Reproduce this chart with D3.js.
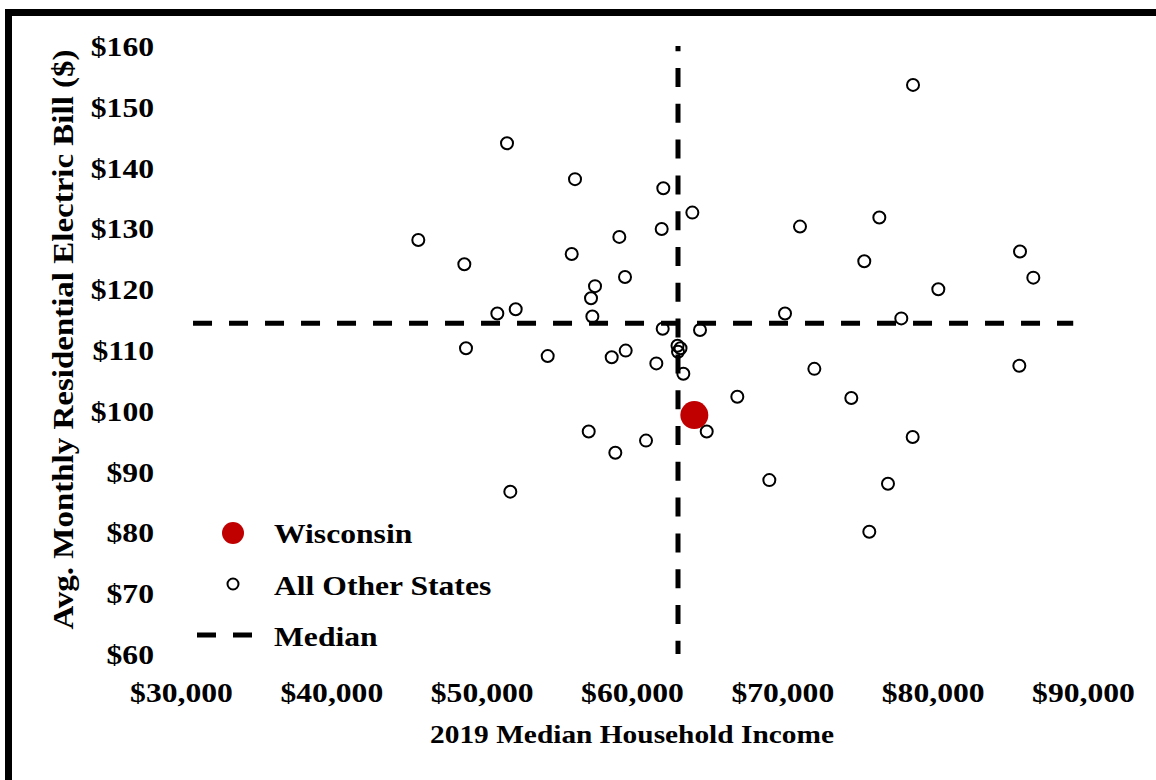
<!DOCTYPE html>
<html>
<head>
<meta charset="utf-8">
<script src="https://cdn.jsdelivr.net/npm/d3@7"></script>
<style>
  html, body { margin: 0; padding: 0; background: #fff; }
  svg { display: block; }
  text { font-family: "Liberation Serif", "Times New Roman", serif; font-weight: bold; fill: #000; }
</style>
</head>
<body>
<svg id="chart" width="1156" height="780"></svg>
<script>
// ---------------- data ----------------
const otherIncome = [78693, 51686, 56209, 62083, 64014, 61975, 59157, 45785, 55990, 48847,
  59535, 57540, 57274, 51042, 52264, 57363, 62042, 64524, 48958, 54392,
  58650, 59581, 61619, 63027, 63227, 63061, 63415, 67006, 64970, 57121,
  60932, 58891, 51906, 69135, 70178, 75451, 85810, 86695, 80376, 77914,
  72130, 85765, 74588, 78670, 77028, 71175, 76452, 75785];
const otherBill = [153.6, 144.0, 138.1, 136.6, 132.6, 129.9, 128.6, 128.1, 125.8, 124.1,
  122.0, 120.5, 118.5, 116.0, 116.7, 115.5, 113.5, 113.3, 110.3, 109.0,
  108.8, 109.9, 107.8, 110.7, 110.3, 109.7, 106.1, 102.3, 96.6, 96.6,
  95.1, 93.1, 86.7, 88.6, 116.0, 124.6, 126.2, 121.9, 120.0, 115.2,
  106.9, 107.4, 102.1, 95.7, 88.0, 130.3, 131.8, 80.1];
const wisconsinIncome = [64146];
const wisconsinBill = [99.3];
const medianIncome = 63060;
const medianBill = 114.4;
const medianIncomeSpan = [160, 60];      // vertical median line, bill range
const medianBillSpan = [30800, 89350];   // horizontal median line, income range
const xTicks = [30000, 40000, 50000, 60000, 70000, 80000, 90000];
const yTicks = [60, 70, 80, 90, 100, 110, 120, 130, 140, 150, 160];
const legendLabels = ["Wisconsin", "All Other States", "Median"];
const xTitle = "2019 Median Household Income";
const yTitle = "Avg. Monthly Residential Electric Bill ($)";

// ---------------- chart ----------------
const svg = d3.select("#chart");
const x = d3.scaleLinear().domain([30000, 90000]).range([181, 1083]);
const y = d3.scaleLinear().domain([60, 160]).range([654, 46]);
const SX = 1.13;

// outer border (continues past the right and bottom edge)
svg.append("rect").attr("x", 8.5).attr("y", 12.5).attr("width", 1300).attr("height", 900)
  .attr("fill", "none").attr("stroke", "#000").attr("stroke-width", 7);

// y axis
const yAxis = svg.append("g").attr("transform", "translate(154,0)")
  .call(d3.axisLeft(y).tickValues(yTicks).tickSize(0).tickPadding(0)
    .tickFormat(d => "$" + d));
yAxis.select(".domain").remove();
yAxis.selectAll("text").attr("font-size", 28).attr("dy", "0.34em")
  .attr("transform", `scale(${SX},1)`)
  .style("font-family", '"Liberation Serif", serif').style("font-weight", "bold").attr("fill", "#000");

// x axis
const xAxis = svg.append("g").attr("transform", "translate(0,682)")
  .call(d3.axisBottom(x).tickValues(xTicks).tickSize(0).tickPadding(0)
    .tickFormat(d => "$" + d3.format(",")(d)));
xAxis.select(".domain").remove();
xAxis.selectAll("text").attr("font-size", 28).attr("dy", "0.71em")
  .attr("transform", `scale(${SX},1)`)
  .style("font-family", '"Liberation Serif", serif').style("font-weight", "bold").attr("fill", "#000");

// axis titles
svg.append("text").attr("transform", `translate(632,743) scale(${SX},1)`)
  .attr("text-anchor", "middle").attr("font-size", 26).text(xTitle);
svg.append("text").attr("transform", "translate(73,339.5) rotate(-90) scale(1.10,1)")
  .attr("text-anchor", "middle").attr("font-size", 30).text(yTitle);

// median lines
svg.append("line")
  .attr("x1", x(medianIncome)).attr("x2", x(medianIncome))
  .attr("y1", y(medianIncomeSpan[0])).attr("y2", y(medianIncomeSpan[1]))
  .attr("stroke", "#000").attr("stroke-width", 5)
  .attr("stroke-dasharray", "19,16.8").attr("stroke-dashoffset", 13.8);
svg.append("line")
  .attr("x1", x(medianBillSpan[0])).attr("x2", x(medianBillSpan[1]))
  .attr("y1", y(medianBill)).attr("y2", y(medianBill))
  .attr("stroke", "#000").attr("stroke-width", 5)
  .attr("stroke-dasharray", "19,17");

// other states
const others = otherIncome.map((v, i) => ({ inc: v, bill: otherBill[i] }));
svg.append("g").selectAll("circle").data(others).join("circle")
  .attr("cx", d => x(d.inc)).attr("cy", d => y(d.bill)).attr("r", 6)
  .attr("fill", "none").attr("stroke", "#000").attr("stroke-width", 2);

// Wisconsin
const wi = wisconsinIncome.map((v, i) => ({ inc: v, bill: wisconsinBill[i] }));
svg.append("g").selectAll("circle").data(wi).join("circle")
  .attr("cx", d => x(d.inc)).attr("cy", d => y(d.bill)).attr("r", 14)
  .attr("fill", "#C00000");

// legend
const lg = svg.append("g");
lg.append("circle").attr("cx", 233).attr("cy", 533).attr("r", 11).attr("fill", "#C00000");
lg.append("circle").attr("cx", 233).attr("cy", 584).attr("r", 5.5)
  .attr("fill", "none").attr("stroke", "#000").attr("stroke-width", 2);
lg.append("line").attr("x1", 197).attr("x2", 252).attr("y1", 635).attr("y2", 635)
  .attr("stroke", "#000").attr("stroke-width", 5).attr("stroke-dasharray", "19,17");
const lgY = [543, 595, 646];
legendLabels.forEach((t, i) => {
  lg.append("text").attr("transform", `translate(274,${lgY[i]}) scale(${SX},1)`)
    .attr("font-size", 28).text(t);
});
</script>
</body>
</html>
